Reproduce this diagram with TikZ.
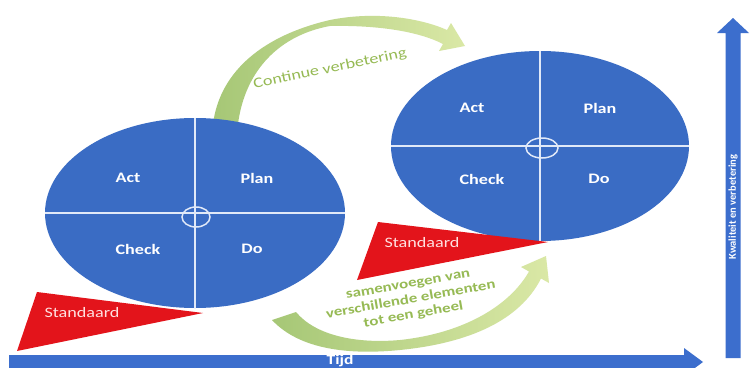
\documentclass[tikz,border=0pt]{standalone}
\usepackage{fontspec}
\usetikzlibrary{shapes.geometric}
\newfontfamily\calw[FakeStretch=1.25]{Carlito}
\newfontfamily\caln{Carlito}
\definecolor{pdcablue}{RGB}{58,108,196}
\definecolor{arrowblue}{RGB}{60,110,205}
\definecolor{stdred}{RGB}{227,20,27}
\definecolor{greenA}{RGB}{166,199,118}
\definecolor{greenB}{RGB}{218,232,166}
\definecolor{greentext}{RGB}{150,186,84}
\definecolor{linewhite}{RGB}{225,233,248}
\begin{document}
\begin{tikzpicture}[x=1pt,y=-1pt,
  cyc/.style={ellipse,fill=pdcablue,inner sep=0pt,minimum width=#1,minimum height=190pt},
  hub/.style={ellipse,draw=linewhite,line width=1.5pt,inner sep=0pt,minimum width=#1,minimum height=20pt},
  quad/.style={text=white,font=\calw\bfseries\fontsize{14.5}{17}\selectfont,inner sep=0pt},
  divider/.style={draw=linewhite,line width=1.6pt},
  stdtext/.style={text=white!88!red,font=\calw\fontsize{14.5}{17}\selectfont,inner sep=0pt},
  greentxt/.style={text=greentext,inner sep=0pt,align=center},
  axistxt/.style={text=white,inner sep=0pt}
]
\useasboundingbox (0,0) rectangle (755,367);
\clip (0,0) rectangle (755,367);
\fill[white] (0,0) rectangle (755,367);

% green curved arrows
\shade[left color=greenA,right color=greenB]
  (213,124) .. controls (220,70) and (265,35) .. (330,20)
  .. controls (380,10) and (425,20) .. (447,30)
  -- (451,23) -- (465,46) -- (439,51) -- (443,44)
  .. controls (420,32) and (380,25) .. (330,26)
  .. controls (280,35) and (245,70) .. (238,124) -- cycle;
\shade[left color=greenA,right color=greenB]
  (272,320) .. controls (300,350) and (350,355) .. (400,350)
  .. controls (470,343) and (520,320) .. (541,278.5)
  -- (549,283) -- (546,256) -- (521,267) -- (529,271.5)
  .. controls (510,305) and (465,333) .. (400,340)
  .. controls (355,344) and (315,335) .. (296,312) -- cycle;

% left cycle
\node[cyc=300pt] (c1) at (195,213) {};
\draw[divider] (c1.west) -- (c1.east);
\draw[divider] (c1.north) -- (c1.south);
\node[hub=28pt] (h1) at (196,217) {};
\node[quad] (act1) at (128,178) {Act};
\node[quad] (plan1) at (257,178) {Plan};
\node[quad] (check1) at (138,249) {Check};
\node[quad] (do1) at (252,249) {Do};

% right cycle
\node[cyc=298pt] (c2) at (540,146) {};
\draw[divider] (c2.west) -- (c2.east);
\draw[divider] (c2.north) -- (c2.south);
\node[hub=32pt] (h2) at (542,148) {};
\node[quad] (act2) at (472,108) {Act};
\node[quad] (plan2) at (600,108) {Plan};
\node[quad] (check2) at (482,179) {Check};
\node[quad] (do2) at (599,179) {Do};

% standards
\fill[stdred] (37,292) -- (17,351) -- (203,313) -- cycle;
\node[stdtext] (s1) at (82,313) {Standaard};
\fill[stdred] (378,222) -- (357,280) -- (548,242) -- cycle;
\node[stdtext] (s2) at (422,243) {Standaard};

% green labels
\node[greentxt,rotate=12,font=\calw\fontsize{14.5}{16}\selectfont] (cv) at (330,69) {Continue verbetering};
\node[greentxt,rotate=10,font=\calw\bfseries\fontsize{13.5}{15.5}\selectfont] (sv) at (411,301) {samenvoegen van\\verschillende elementen\\tot een geheel};

% axes
\fill[arrowblue] (9,355) -- (684,355) -- (684,348) -- (703,362) -- (684,376) -- (684,369) -- (9,369) -- cycle;
\node[axistxt,font=\calw\bfseries\fontsize{14}{16}\selectfont] (tijd) at (340,361) {Tijd};
\fill[arrowblue] (725.5,358) -- (725.5,33) -- (717,33) -- (733,18) -- (749,33) -- (740.5,33) -- (740.5,358) -- cycle;
\node[axistxt,rotate=90,font=\caln\bfseries\fontsize{10.5}{12}\selectfont] (kw) at (733,207) {Kwaliteit en verbetering};
\end{tikzpicture}
\end{document}
